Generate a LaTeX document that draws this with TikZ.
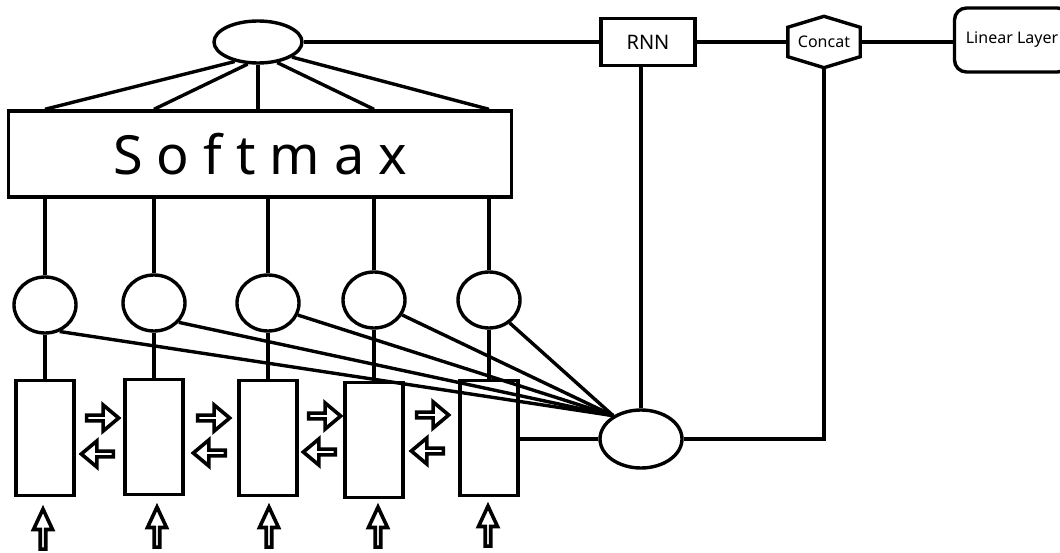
\documentclass[tikz,border=0pt]{standalone}
\usepackage{fontspec}
\setmainfont{Noto Sans}
\usetikzlibrary{shapes.geometric,shapes.arrows}

\begin{document}
\begin{tikzpicture}
    [
        x=1pt, y=-1pt, line width=3.4pt,
        oval/.style={ellipse, draw, inner sep=0pt},
        unit/.style={oval, minimum width=62pt, minimum height=56pt},
        cell/.style={rectangle, draw, minimum width=58pt, minimum height=115pt, inner sep=0pt},
        flow/.style={single arrow, draw, line width=3.6pt, minimum height=32pt, minimum width=26pt,
            single arrow head extend=6.5pt, single arrow tip angle=80, inner sep=0pt},
        input/.style={single arrow, draw, rotate=90, line width=3.6pt, minimum height=40pt, minimum width=19pt,
            single arrow head extend=4.5pt, single arrow tip angle=50, inner sep=0pt},
    ]
        \useasboundingbox (0,0) rectangle (1060,553);
        \clip (0,0) rectangle (1060,553);

        \node[oval, minimum width=88pt, minimum height=42pt] (top) at (258,42) {};
        \node[draw, minimum width=503pt, minimum height=86pt, font=\fontsize{54}{60}\selectfont] (soft) at (260,154) {S o f t m a x};
        \node[draw, minimum width=94pt, minimum height=47pt, font=\fontsize{20}{24}\selectfont] (rnn) at (648,42) {RNN};
        \node[minimum width=69pt, minimum height=26pt, inner sep=0pt, font=\fontsize{16}{19}\selectfont] (concat) at (824,42) {Concat};
        \draw ([yshift=11pt]concat.north) -- (concat.north east) -- (concat.south east)
            -- ([yshift=-11pt]concat.south) -- (concat.south west) -- (concat.north west) -- cycle;
        \coordinate (cbot) at ([yshift=-11pt]concat.south);
        \node[draw, rounded corners=12pt, minimum width=115pt, minimum height=64pt, font=\fontsize{16}{19}\selectfont] (linear) at (1012,40) {Linear Layer};
        \node[oval, minimum width=82pt, minimum height=58pt] (sum) at (641,439) {};

        % attention units and encoder cells
        \foreach \i/\x/\ye/\yc/\ang in {1/45/305/438/-61, 2/154/303/437/-38, 3/268/303/438/-22, 4/374/300/440/-28, 5/489/300/438/-48} {
            \node[unit] (e\i) at (\x,\ye) {};
            \node[cell] (r\i) at (\x,\yc) {};
            \draw (e\i.south) -- (r\i.north);
            \draw (soft.south -| e\i) -- (e\i.north);
            \draw (e\i.\ang) -- (sum.140);
        }
        \foreach \i/\ang in {1/220, 2/245, 4/313, 5/336} {
            \draw (top.\ang) -- (soft.north -| e\i);
        }
        \draw (top.south) -- (top.south |- soft.north);

        % arrows between cells
        \foreach \xr/\yr/\xl/\yl [count=\k] in {101/418/99/454, 212/418/211/453, 323/416/321/452, 431/415/429/451} {
            \node[flow] (fw\k) at (\xr,\yr) {};
            \node[flow, rotate=180] (bw\k) at (\xl,\yl) {};
        }
        \foreach \x/\y [count=\k] in {43/532, 157/530, 269/530, 378/530, 488/529} {
            \node[input] (in\k) at (\x,\y) {};
        }

        \draw (top.east) -- (rnn.west);
        \draw (rnn.east) -- (concat.west);
        \draw (concat.east) -- (concat.east -| linear.west);
        \draw (sum.north) -- (sum.north |- rnn.south);
        \draw (cbot) |- (sum.east);
        \draw (sum.west -| r5.east) -- (sum.west);
\end{tikzpicture}
\end{document}
